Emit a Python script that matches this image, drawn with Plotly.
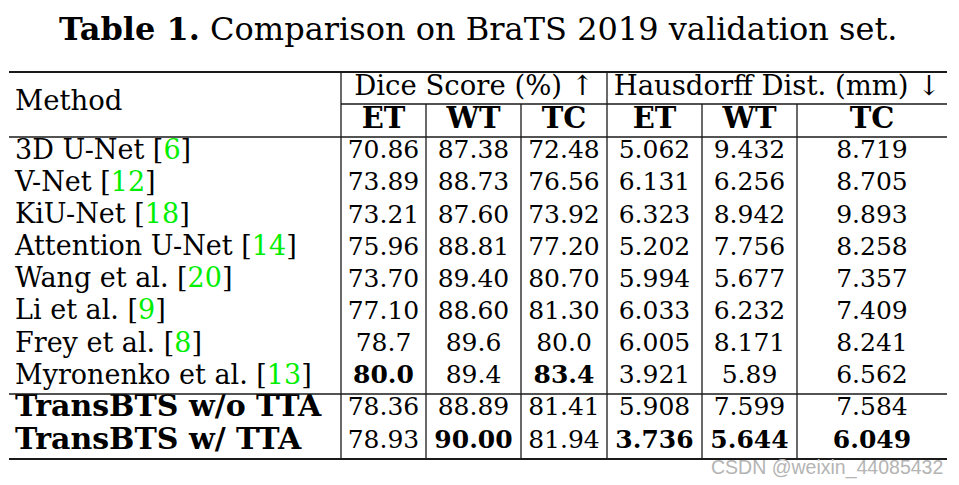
import plotly.graph_objects as go

# ---------------- data ----------------
title_bold = "Table 1."
title_text = "Comparison on BraTS 2019 validation set."
method_header = "Method"
group_headers = ["Dice Score (%) ↑", "Hausdorff Dist. (mm) ↓"]
sub_headers = ["ET", "WT", "TC", "ET", "WT", "TC"]

methods = ["3D U-Net", "V-Net", "KiU-Net", "Attention U-Net", "Wang et al.",
           "Li et al.", "Frey et al.", "Myronenko et al.",
           "TransBTS w/o TTA", "TransBTS w/ TTA"]
cites = ["6", "12", "18", "14", "20", "9", "8", "13", "", ""]
dice_et = ["70.86", "73.89", "73.21", "75.96", "73.70", "77.10", "78.7", "80.0", "78.36", "78.93"]
dice_wt = ["87.38", "88.73", "87.60", "88.81", "89.40", "88.60", "89.6", "89.4", "88.89", "90.00"]
dice_tc = ["72.48", "76.56", "73.92", "77.20", "80.70", "81.30", "80.0", "83.4", "81.41", "81.94"]
hd_et = ["5.062", "6.131", "6.323", "5.202", "5.994", "6.033", "6.005", "3.921", "5.908", "3.736"]
hd_wt = ["9.432", "6.256", "8.942", "7.756", "5.677", "6.232", "8.171", "5.89", "7.599", "5.644"]
hd_tc = ["8.719", "8.705", "9.893", "8.258", "7.357", "7.409", "8.241", "6.562", "7.584", "6.049"]
best_cells = [(7, 0), (7, 2), (9, 1), (9, 3), (9, 4), (9, 5)]  # (row, value column) shown bold
ours_rows = [8, 9]
watermark = "CSDN @weixin_44085432"

# ---------------- layout geometry (screen pixels) ----------------
W, H = 959, 485
OFF = 8  # page body margin
left_x = 9
col_edges = [341, 426, 521, 607, 702, 797, 947]
y_top, y_hmid, y_hbot, y_sep, y_bot = 72, 104, 137, 394, 459
n_prior = 8
cite_color = "#00ee00"
FONT = "DejaVu Serif"
FS_NUM = 25
FS_NAME = 27
FS_BOLD_NAME = 30
FS_SUB = 29
FS_HEAD = 27.5

values = [dice_et, dice_wt, dice_tc, hd_et, hd_wt, hd_tc]

row_y = []
h1 = (y_sep - y_hbot) / n_prior
for i in range(n_prior):
    row_y.append(y_hbot + h1 * (i + 0.5) - 1)
h2 = (y_bot - y_sep) / (len(methods) - n_prior)
for i in range(len(methods) - n_prior):
    row_y.append(y_sep + h2 * (i + 0.5) - 1.5)

col_cx = [(col_edges[i] + col_edges[i + 1]) / 2 for i in range(6)]

fig = go.Figure()

def text_trace(xs, ys, texts, pos, size):
    fig.add_trace(go.Scatter(x=xs, y=ys, mode="text", text=texts, textposition=pos,
                             textfont=dict(family=FONT, size=size, color="black"),
                             hoverinfo="skip", showlegend=False))

# method names
for i, (m, c) in enumerate(zip(methods, cites)):
    s = m
    if c:
        s += " [<span style='color:%s'>%s</span>]" % (cite_color, c)
    if i in ours_rows:
        text_trace([15], [row_y[i]], ["<b>" + s + "</b>"], "middle right", FS_BOLD_NAME)
    else:
        text_trace([15], [row_y[i]], [s], "middle right", FS_NAME)

# value columns
for j, col in enumerate(values):
    txt = []
    for i, v in enumerate(col):
        txt.append("<b>%s</b>" % v if (i, j) in best_cells else v)
    text_trace([col_cx[j]] * len(col), row_y, txt, "middle center", FS_NUM)

# headers
text_trace([15], [(y_top + y_hbot) / 2 - 1], [method_header], "middle right", FS_HEAD)
text_trace([(col_edges[0] + col_edges[3]) / 2, (col_edges[3] + col_edges[6]) / 2],
           [(y_top + y_hmid) / 2] * 2, group_headers, "middle center", FS_HEAD)
text_trace(col_cx, [(y_hmid + y_hbot) / 2 + 0.5] * 6,
           ["<b>%s</b>" % s for s in sub_headers], "middle center", FS_SUB)

# rules
shapes = []
def hline(y, x0, x1, w):
    shapes.append(dict(type="line", xref="x", yref="y", x0=x0, x1=x1, y0=y, y1=y,
                       line=dict(color="#1a1a1a", width=w)))
def vline(x, y0, y1, w=1.3):
    shapes.append(dict(type="line", xref="x", yref="y", x0=x, x1=x, y0=y0, y1=y1,
                       line=dict(color="#1a1a1a", width=w)))

hline(y_top, left_x, col_edges[-1], 2)
hline(y_hmid, col_edges[0], col_edges[-1], 1.3)
hline(y_hbot, left_x, col_edges[-1], 1.6)
hline(y_sep, left_x, col_edges[-1], 1.6)
hline(y_bot, left_x, col_edges[-1], 2)
vline(col_edges[0], y_top, y_bot)
vline(col_edges[3], y_top, y_bot)
for k in (1, 2, 4, 5):
    vline(col_edges[k], y_hmid, y_bot)

fig.update_layout(
    width=W, height=H,
    margin=dict(l=0, r=0, t=0, b=0),
    paper_bgcolor="white", plot_bgcolor="white",
    xaxis=dict(range=[OFF, W + OFF], visible=False, fixedrange=True),
    yaxis=dict(range=[H + OFF, OFF], visible=False, fixedrange=True),
    shapes=shapes,
    annotations=[
        dict(text="<b>%s</b> %s" % (title_bold, title_text), xref="x", yref="y",
             x=477.5, y=29, xanchor="center", yanchor="middle", showarrow=False,
             font=dict(family=FONT, size=32, color="black")),
        dict(text=watermark, xref="x", yref="y", x=945, y=467,
             xanchor="right", yanchor="middle", showarrow=False,
             font=dict(family="Liberation Sans", size=19.5, color="#b4b4b4")),
    ],
)

fig.write_html("out.html")
